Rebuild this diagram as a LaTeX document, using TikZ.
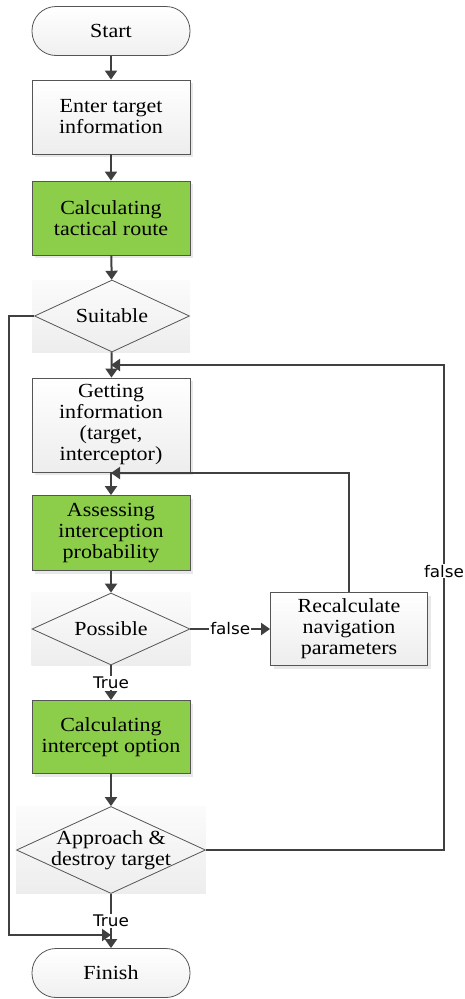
\documentclass[tikz,border=0pt]{standalone}
\usepackage{fontspec}
\setmainfont[FakeStretch=1.1]{Liberation Serif}
\newfontfamily\lblfont[FakeStretch=1.05]{DejaVu Sans}
\usetikzlibrary{arrows.meta,shapes.geometric,shadows,backgrounds}
\definecolor{linegray}{HTML}{404040}
\definecolor{boxline}{HTML}{555555}
\definecolor{boxgreen}{HTML}{8CCE4A}
\newcommand{\zw}[1]{\makebox[0pt]{#1}}

\begin{document}
\begin{tikzpicture}[x=1pt,y=-1pt,
  every node/.style={font=\fontsize{20}{21}\selectfont},
  base/.style={draw=boxline,line width=0.8pt,align=center,inner sep=0pt,minimum width=158pt},
  shade/.style={drop shadow={shadow xshift=3pt,shadow yshift=-3pt,fill=gray!35,opacity=0.5}},
  plain/.style={base,rectangle,top color=white,bottom color=gray!14,shade},
  greenbox/.style={base,rectangle,fill=boxgreen,shade},
  term/.style={base,rectangle,rounded corners=24pt,minimum height=49pt,top color=white,bottom color=gray!12},
  decide/.style={diamond,aspect=2.2,draw=boxline,line width=0.8pt,inner sep=0pt,align=center},
  flow/.style={draw=linegray,line width=2pt,-{Triangle[length=9pt,width=12pt]}},
  lbl/.style={font=\lblfont\fontsize{16}{16}\selectfont,fill=white,inner sep=1pt}]
\useasboundingbox (0,0) rectangle (465,999);

\node[term] (start) at (111,31) {Start};
\node[plain,minimum height=74pt] (enter) at (111,117) {Enter target\\information};
\node[greenbox,minimum height=74pt] (route) at (111,218) {Calculating\\tactical route};
\node[decide,minimum width=155pt,minimum height=72pt] (suit) at (112,316) {Suitable};
\node[plain,minimum height=94pt] (info) at (111,425) {Getting\\information\\(target,\\interceptor)};
\node[greenbox,minimum height=75pt] (assess) at (111,533) {Assessing\\interception\\probability};
\node[decide,minimum width=158pt,minimum height=72pt] (poss) at (111,629) {Possible};
\node[plain,minimum width=157pt,minimum height=73pt] (recalc) at (349,629) {Recalculate\\navigation\\parameters};
\node[greenbox,minimum height=73pt] (option) at (111,737) {Calculating\\intercept option};
\node[decide,minimum width=189pt,minimum height=87pt] (appr) at (111,850) {\zw{Approach \&}\\\zw{destroy target}};
\node[term] (finish) at (111,973) {Finish};

\coordinate (loopin) at (111,365);
\coordinate (loopmid) at (111,473);
\coordinate (finin) at (111,935);

\begin{scope}[on background layer]
\fill[top color=gray!3,bottom color=gray!14] (32,280) rectangle (190,352);
\fill[top color=gray!3,bottom color=gray!14] (poss.west |- poss.north) rectangle (poss.east |- poss.south);
\fill[top color=gray!3,bottom color=gray!14] (appr.west |- appr.north) rectangle (appr.east |- appr.south);
\end{scope}

\draw[flow] (start) -- (enter);
\draw[flow] (enter) -- (route);
\draw[flow] (route) -- (suit);
\draw[flow] (suit) -- (info);
\draw[flow] (info) -- (assess);
\draw[flow] (assess) -- (poss);
\draw[flow] (poss) -- node[lbl]{false} (recalc);
\draw[flow] (poss) -- node[lbl]{True} (option);
\draw[flow] (option) -- (appr);
\draw[flow] (appr) -- node[lbl]{True} (finish);
\draw[flow] (suit.west) -| (9,935) -- (finin);
\draw[flow] (appr.east) -- (444,850) -- node[lbl,pos=0.575]{false} (444,365) -- (loopin);
\draw[flow] (recalc.north) |- (loopmid);
\end{tikzpicture}
\end{document}
